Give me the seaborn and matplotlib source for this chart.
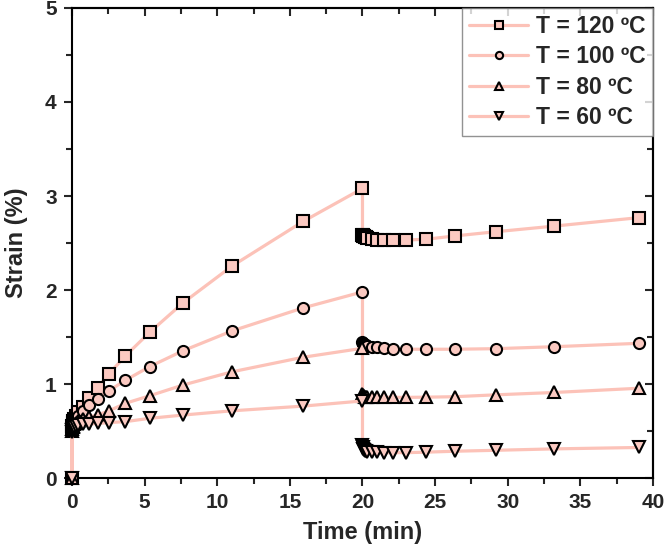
import numpy as np
import pandas as pd
import matplotlib
matplotlib.use('Agg')
import matplotlib.pyplot as plt
import seaborn as sns
from matplotlib.ticker import MultipleLocator

# time points (min): loading up to 20 min, then recovery
time_load = [0, 0.01, 0.03, 0.06, 0.1, 0.16, 0.26, 0.43, 0.73, 1.17, 1.76, 2.56, 3.68, 5.35, 7.66, 11.02, 15.92, 20.0]
time_recov = [20.0, 20.03, 20.06, 20.1, 20.15, 20.22, 20.33, 20.67, 21.02, 21.47, 22.09, 23.01, 24.38, 26.35, 29.18, 33.21, 39.04]

strain_120 = [0, 0.52, 0.55, 0.58, 0.61, 0.63, 0.66, 0.70, 0.76, 0.85, 0.96, 1.11, 1.30, 1.55, 1.865, 2.255, 2.73, 3.08,
              2.59, 2.58, 2.575, 2.57, 2.565, 2.56, 2.55, 2.54, 2.535, 2.53, 2.53, 2.532, 2.54, 2.575, 2.62, 2.68, 2.77]
strain_100 = [0, 0.51, 0.53, 0.56, 0.58, 0.60, 0.63, 0.66, 0.71, 0.78, 0.845, 0.93, 1.04, 1.185, 1.355, 1.565, 1.81, 1.98,
              1.45, 1.44, 1.43, 1.42, 1.415, 1.41, 1.40, 1.395, 1.39, 1.383, 1.377, 1.37, 1.37, 1.37, 1.376, 1.397, 1.433]
strain_80 = [0, 0.50, 0.52, 0.54, 0.55, 0.57, 0.59, 0.61, 0.63, 0.65, 0.67, 0.715, 0.795, 0.875, 0.99, 1.13, 1.285, 1.38,
             0.89, 0.88, 0.875, 0.87, 0.865, 0.862, 0.86, 0.858, 0.858, 0.858, 0.858, 0.858, 0.86, 0.865, 0.885, 0.91, 0.955]
strain_60 = [0, 0.49, 0.51, 0.52, 0.53, 0.54, 0.55, 0.56, 0.57, 0.575, 0.58, 0.59, 0.60, 0.635, 0.67, 0.715, 0.765, 0.82,
             0.35, 0.33, 0.31, 0.30, 0.29, 0.285, 0.28, 0.275, 0.272, 0.27, 0.27, 0.27, 0.275, 0.285, 0.295, 0.31, 0.325]

labels = ['T = 120 ºC', 'T = 100 ºC', 'T = 80 ºC', 'T = 60 ºC']
markers = ['s', 'o', '^', 'v']

sns.set_style('ticks')
plt.rcParams['font.family'] = ['Liberation Sans', 'DejaVu Sans']
plt.rcParams['font.weight'] = 'bold'

line_color = '#fcc2b8'
face_color = '#fbc9c1'

fig = plt.figure(figsize=(6.64, 5.55), dpi=100)
ax = fig.add_axes([0.1084, 0.1387, 0.8750, 0.8469])

time_all = time_load + time_recov
for strain, lab, mk in zip([strain_120, strain_100, strain_80, strain_60], labels, markers):
    df = pd.DataFrame({'time': time_all, 'strain': strain})
    sns.lineplot(data=df, x='time', y='strain', sort=False, estimator=None, ax=ax,
                 color=line_color, lw=2.3, clip_on=False, zorder=3,
                 marker=mk, markersize=8, markerfacecolor=face_color, markeredgecolor='black',
                 markeredgewidth=1.5, label=lab)

ax.set_xlim(0, 40)
ax.set_ylim(0, 5)
ax.xaxis.set_major_locator(MultipleLocator(5))
ax.xaxis.set_minor_locator(MultipleLocator(2.5))
ax.yaxis.set_major_locator(MultipleLocator(1))
ax.yaxis.set_minor_locator(MultipleLocator(0.5))
ax.tick_params(which='major', direction='out', length=6, width=1.5, labelsize=15, pad=5)
ax.tick_params(which='minor', direction='out', length=4, width=1.5)
for lbl in ax.get_xticklabels() + ax.get_yticklabels():
    lbl.set_fontweight('bold')
for sp in ax.spines.values():
    sp.set_linewidth(1.5)
    sp.set_color('black')

# inward ticks on top and right
top = ax.secondary_xaxis('top')
top.xaxis.set_major_locator(MultipleLocator(5))
top.xaxis.set_minor_locator(MultipleLocator(2.5))
top.tick_params(which='major', direction='in', length=6, width=1.5, labeltop=False)
top.tick_params(which='minor', direction='in', length=4, width=1.5)
top.spines['top'].set_linewidth(1.5)
right = ax.secondary_yaxis('right')
right.yaxis.set_major_locator(MultipleLocator(1))
right.yaxis.set_minor_locator(MultipleLocator(0.5))
right.tick_params(which='major', direction='in', length=6, width=1.5, labelright=False)
right.tick_params(which='minor', direction='in', length=4, width=1.5)
right.spines['right'].set_linewidth(1.5)

ax.set_xlabel('Time (min)', fontsize=17, fontweight='bold', labelpad=6)
ax.set_ylabel('Strain (%)', fontsize=17, fontweight='bold', labelpad=12)

leg = ax.legend(loc='upper right', bbox_to_anchor=(1.0, 1.0), borderaxespad=0, fontsize=16.5,
                markerscale=0.65, handlelength=2.6, frameon=True, fancybox=False,
                labelspacing=0.32, handletextpad=0.35, borderpad=0.3)
leg.get_frame().set_edgecolor('#777777')
leg.get_frame().set_linewidth(1.0)
leg.set_zorder(5)
for t in leg.get_texts():
    t.set_fontweight('bold')

fig.savefig('out.png', dpi=100)
